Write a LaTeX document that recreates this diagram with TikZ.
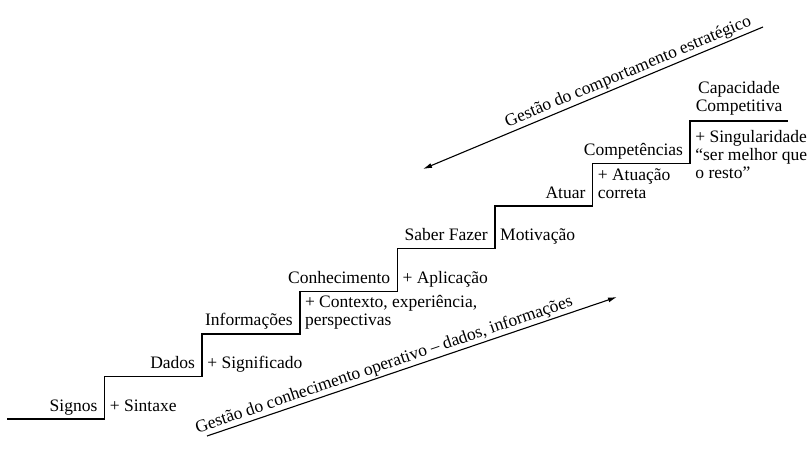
\documentclass[tikz,border=0pt]{standalone}
\usepackage{fontspec}
\setmainfont{Liberation Serif}
\usetikzlibrary{arrows.meta,calc}
\newcommand\mlines[2][t]{\begin{tabular}[#1]{@{}l@{}}#2\end{tabular}}
\newcommand\clines[1]{\begin{tabular}[b]{@{}c@{}}#1\end{tabular}}
\begin{document}
\begin{tikzpicture}[x=1pt,y=-1pt,
  every node/.style={font=\fontsize{17.5}{18}\selectfont, inner sep=0pt},
  stair/.style={line width=1.5pt},
  steplabel/.style={anchor=base east},
  gainlabel/.style={anchor=base west},
  flow/.style={line width=1.1pt, -{Latex[length=9pt,width=5pt]}},
  flowtext/.style={sloped, above, inner sep=1.5pt}]
\path[use as bounding box] (0,0) rectangle (811,466);
% staircase corner points
\coordinate (s)  at (7,419);
\coordinate (t1) at (104.6,376.4);
\coordinate (t2) at (202.2,333.9);
\coordinate (t3) at (299.8,291.3);
\coordinate (t4) at (397.4,248.7);
\coordinate (t5) at (495,206.1);
\coordinate (t6) at (592.6,163.6);
\coordinate (t7) at (690.2,121);
\coordinate (e)  at (787.8,121);
\draw[stair] (s) -| (t1) -| (t2) -| (t3) -| (t4) -| (t5) -| (t6) -| (t7) -- (e);
% step names
\node[steplabel] (signos) at ($(t1)+(-7,34.6)$) {Signos};
\node[steplabel] (dados)  at ($(t2)+(-7,34.6)$) {Dados};
\node[steplabel] (inf)    at ($(t3)+(-7,34.6)$) {Informações};
\node[steplabel] (conh)   at ($(t4)+(-7,34.6)$) {Conhecimento};
\node[steplabel] (saber)  at ($(t5)+(-7,34.6)$) {Saber Fazer};
\node[steplabel] (atuar)  at ($(t6)+(-7,34.6)$) {Atuar};
\node[steplabel] (comp)   at ($(t7)+(-7,34.6)$) {Competências};
\node[anchor=base] (cap) at ($(t7)!0.5!(e)+(0,-10)$) {\clines{Capacidade\\Competitiva}};
% gains
\node[gainlabel] (sint) at ($(t1)+(5,34.6)$) {+ Sintaxe};
\node[gainlabel] (sign) at ($(t2)+(5,34.6)$) {+ Significado};
\node[gainlabel] (cont) at ($(t3)+(5,34.6)$) {\mlines[b]{+ Contexto, experiência,\\perspectivas}};
\node[gainlabel] (apl)  at ($(t4)+(5,34.6)$) {+ Aplicação};
\node[gainlabel] (mot)  at ($(t5)+(5,34.6)$) {Motivação};
\node[gainlabel] (atc)  at ($(t6)+(5,34.6)$) {\mlines[b]{+ Atuação\\correta}};
\node[gainlabel] (sing) at ($(t7)+(5,21)$) {\mlines[t]{+ Singularidade\\“ser melhor que\\o resto”}};
% arrows
\coordinate (up1) at (763,27);
\coordinate (up2) at (423,169);
\draw[flow] (up1) -- (up2) node[flowtext,pos=0.385] (strat) {Gestão do comportamento estratégico};
\coordinate (lo1) at (207,436);
\coordinate (lo2) at (617,297);
\draw[flow] (lo1) -- (lo2) node[flowtext,pos=0.44] (oper) {Gestão do conhecimento operativo – dados, informações};
\end{tikzpicture}
\end{document}
